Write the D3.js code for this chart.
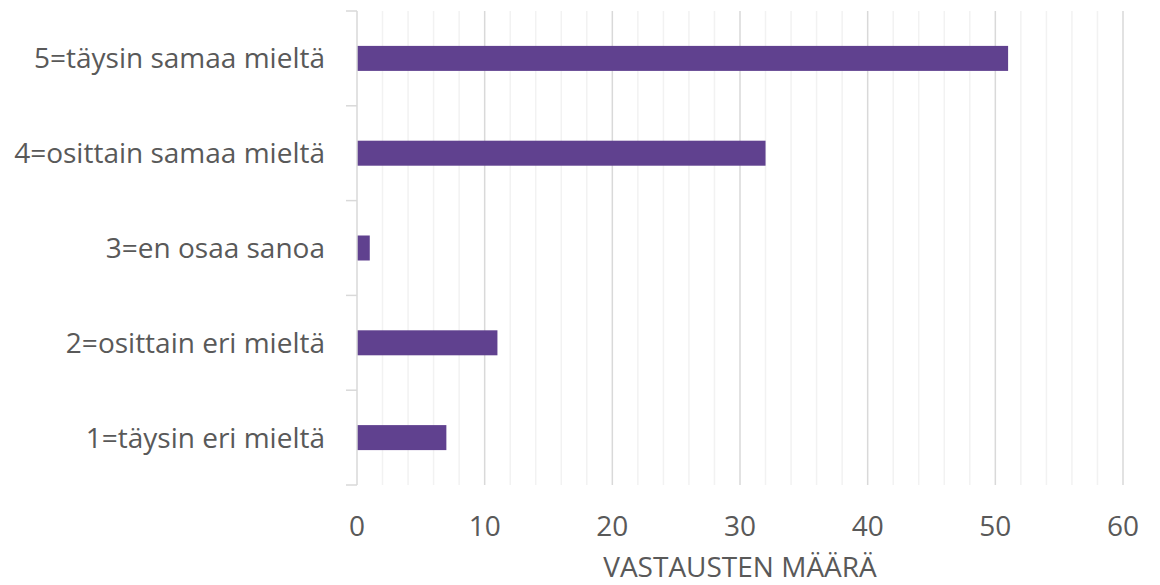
<!DOCTYPE html>
<html>
<head>
<meta charset="UTF-8">
<title>Vastausten määrä</title>
<script src="https://cdn.jsdelivr.net/npm/d3@7"></script>
<style>
    body { margin: 0; background: #fff; }
    svg text { font-family: "Open Sans", sans-serif; fill: #595959; }
</style>
</head>
<body>
<div id="chart"></div>
<script>
    // data, top category first
    const categories = ["5=täysin samaa mieltä", "4=osittain samaa mieltä", "3=en osaa sanoa", "2=osittain eri mieltä", "1=täysin eri mieltä"];
    const counts = [51, 32, 1, 11, 7];
    const xTicks = [0, 10, 20, 30, 40, 50, 60];
    const minorTicks = d3.range(0, 61, 2);
    const xTitle = "VASTAUSTEN MÄÄRÄ";

    const w = 1160, h = 585;
    const margin = { top: 11, right: 37, bottom: 100, left: 357 };
    const fontSize = "28px";

    const svg = d3.select("#chart").append("svg")
        .attr("width", w)
        .attr("height", h);

    const x = d3.scaleLinear().domain([0, 60]).range([margin.left, w - margin.right]);
    const y = d3.scaleBand().domain(categories).range([margin.top, h - margin.bottom]).paddingInner(0).paddingOuter(0);

    // minor grid
    svg.append("g").selectAll("line")
        .data(minorTicks.filter(d => d % 10 !== 0))
        .enter().append("line")
        .attr("x1", d => x(d)).attr("x2", d => x(d))
        .attr("y1", margin.top).attr("y2", h - margin.bottom)
        .attr("stroke", "#f2f2f2").attr("stroke-width", 1.5);

    // major grid
    svg.append("g").selectAll("line")
        .data(xTicks.filter(d => d > 0))
        .enter().append("line")
        .attr("x1", d => x(d)).attr("x2", d => x(d))
        .attr("y1", margin.top).attr("y2", h - margin.bottom)
        .attr("stroke", "#d9d9d9").attr("stroke-width", 1.5);

    // bars
    const barH = 25;
    svg.append("g").selectAll("rect")
        .data(counts)
        .enter().append("rect")
        .attr("x", x(0))
        .attr("y", (d, i) => y(categories[i]) + y.bandwidth() / 2 - barH / 2)
        .attr("width", d => x(d) - x(0))
        .attr("height", barH)
        .attr("fill", "#60418f");

    // y axis line + ticks at band edges
    const edges = categories.map(c => y(c)).concat([h - margin.bottom]);
    svg.append("line")
        .attr("x1", x(0)).attr("x2", x(0))
        .attr("y1", margin.top).attr("y2", h - margin.bottom)
        .attr("stroke", "#d9d9d9").attr("stroke-width", 1.5);
    svg.append("g").selectAll("line")
        .data(edges)
        .enter().append("line")
        .attr("x1", x(0) - 11).attr("x2", x(0))
        .attr("y1", d => d).attr("y2", d => d)
        .attr("stroke", "#d9d9d9").attr("stroke-width", 1.5);

    // category labels
    svg.append("g").selectAll("text")
        .data(categories)
        .enter().append("text")
        .attr("x", 325)
        .attr("y", d => y(d) + y.bandwidth() / 2 + 10)
        .attr("text-anchor", "end")
        .style("font-size", fontSize)
        .text(d => d);

    // x tick labels
    svg.append("g").selectAll("text")
        .data(xTicks)
        .enter().append("text")
        .attr("x", d => x(d))
        .attr("y", 536)
        .attr("text-anchor", "middle")
        .style("font-size", fontSize)
        .text(d => d);

    // axis title
    svg.append("text")
        .attr("x", (x(0) + x(60)) / 2)
        .attr("y", 577)
        .attr("text-anchor", "middle")
        .style("font-size", fontSize)
        .text(xTitle);
</script>
</body>
</html>
